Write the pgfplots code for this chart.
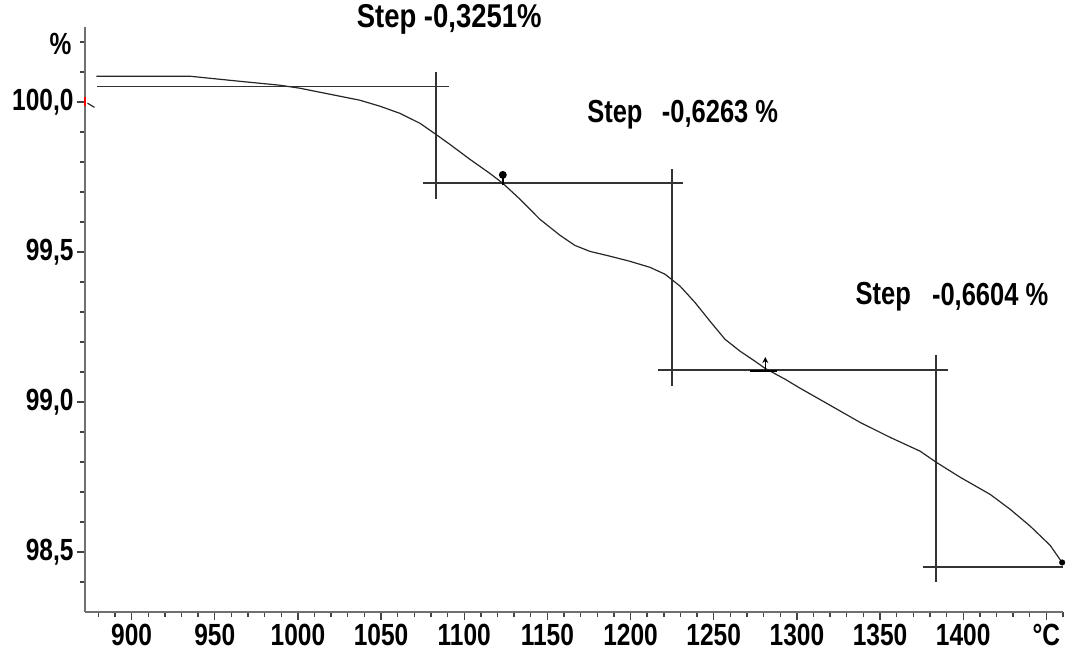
\documentclass[border=0pt]{standalone}
\usepackage{fontspec}
\setmainfont{Liberation Sans}
\usepackage{pgfplots}
\pgfplotsset{compat=1.18}
\usetikzlibrary{arrows.meta}
\definecolor{axgray}{HTML}{707070}
\definecolor{stepgray}{HTML}{333333}
\begin{document}
\begin{tikzpicture}[x=1pt,y=1pt]
\useasboundingbox (0,0) rectangle (1066,660);
\begin{axis}[
  at={(85pt,48pt)}, anchor=south west,
  scale only axis, width=978pt, height=585pt,
  xmin=872, xmax=1460, ymin=98.3, ymax=100.25,
  axis lines*=left,
  axis line style={axgray, line width=2pt},
  clip=false,
  xtick={900,950,...,1450},
  xticklabels={900,950,1000,1050,1100,1150,1200,1250,1300,1350,1400,°C},
  minor xtick={880,890,...,1460},
  ytick={98.5,99,99.5,100},
  yticklabels={{98,5},{99,0},{99,5},{100,0}},
  minor ytick={98.4,98.6,98.7,98.8,98.9,99.1,99.2,99.3,99.4,99.6,99.7,99.8,99.9,100.1,100.2},
  tick align=outside,
  major tick length=8pt, minor tick length=5pt,
  tick style={axgray!60!black, line width=1.4pt},
  ticklabel style={font=\fontsize{24.5}{24}\selectfont\bfseries, yscale=1.25},
]
% step construction lines
\addplot[stepgray, line width=1.7pt] coordinates {(879,100.052) (1090.7,100.052)};
\addplot[stepgray, line width=1.7pt] coordinates {(1083,100.099) (1083,99.676)};
\addplot[stepgray, line width=1.7pt] coordinates {(1075.1,99.729) (1231.5,99.729)};
\addplot[stepgray, line width=1.7pt] coordinates {(1224.9,99.776) (1224.9,99.052)};
\addplot[stepgray, line width=1.7pt] coordinates {(1216.5,99.106) (1391,99.106)};
\addplot[stepgray, line width=1.7pt] coordinates {(1383.8,99.156) (1383.8,98.399)};
\addplot[stepgray, line width=1.7pt] coordinates {(1375.9,98.45) (1460.2,98.45)};
% TG curve
\addplot[black!85, line width=1.2pt] coordinates {
(878.9,100.086) (934.9,100.086) (965.0,100.069) (989.0,100.056) (1001.1,100.046)
(1019.1,100.026) (1037.2,100.006) (1049.3,99.986) (1061.4,99.962) (1073.4,99.929)
(1083.0,99.892) (1091.3,99.859) (1103.4,99.809) (1115.4,99.762) (1123.2,99.729)
(1133.5,99.676) (1145.5,99.609) (1157.5,99.556) (1166.5,99.522) (1175.6,99.502)
(1187.6,99.486) (1199.6,99.469) (1211.6,99.449) (1220.7,99.426) (1229.8,99.386)
(1238.7,99.332) (1247.8,99.269) (1256.8,99.209) (1265.9,99.169) (1274.8,99.136)
(1280.9,99.112) (1292.9,99.076) (1301.9,99.046) (1320.0,98.989) (1338.0,98.932)
(1356.1,98.882) (1374.1,98.836) (1383.8,98.799) (1398.2,98.749) (1416.2,98.692)
(1428.3,98.642) (1440.3,98.586) (1452.3,98.522) (1460.2,98.459)};
\addplot[black!85, line width=1.2pt] coordinates {(873.5,99.996) (877.7,99.982)};
% markers
\addplot[black, line width=1.4pt, mark=*, mark size=3.2pt, mark indices={1}] coordinates {(1123.2,99.757) (1123.2,99.722)};
\addplot[black, line width=1.5pt, -{Stealth[length=6pt,width=6pt]}] coordinates {(1281,99.100) (1281,99.150)};
\addplot[black, line width=2.4pt] coordinates {(1272,99.104) (1288,99.104)};
\addplot[black, mark=*, mark size=2.8pt, only marks] coordinates {(1459.5,98.465)};
\addplot[red, line width=2.4pt] coordinates {(872,100.015) (872,99.985)};
% percent label
\node[anchor=east, font=\fontsize{24.5}{24}\selectfont\bfseries, yscale=1.25] at (axis cs:866,100.192) {\%};
% step annotations
\node[font=\fontsize{27.5}{25}\selectfont\bfseries, yscale=1.2] at (axis cs:1091,100.276) {Step -0,3251\%};
\node[font=\fontsize{25.5}{25}\selectfont\bfseries, yscale=1.25] at (axis cs:1190.6,99.959) {Step};
\node[font=\fontsize{25.5}{25}\selectfont\bfseries, yscale=1.25] at (axis cs:1253.8,99.959) {-0,6263 \%};
\node[font=\fontsize{25.5}{25}\selectfont\bfseries, yscale=1.25] at (axis cs:1351.9,99.352) {Step};
\node[font=\fontsize{25.5}{25}\selectfont\bfseries, yscale=1.25] at (axis cs:1416.2,99.352) {-0,6604 \%};
\end{axis}
\end{tikzpicture}
\end{document}
